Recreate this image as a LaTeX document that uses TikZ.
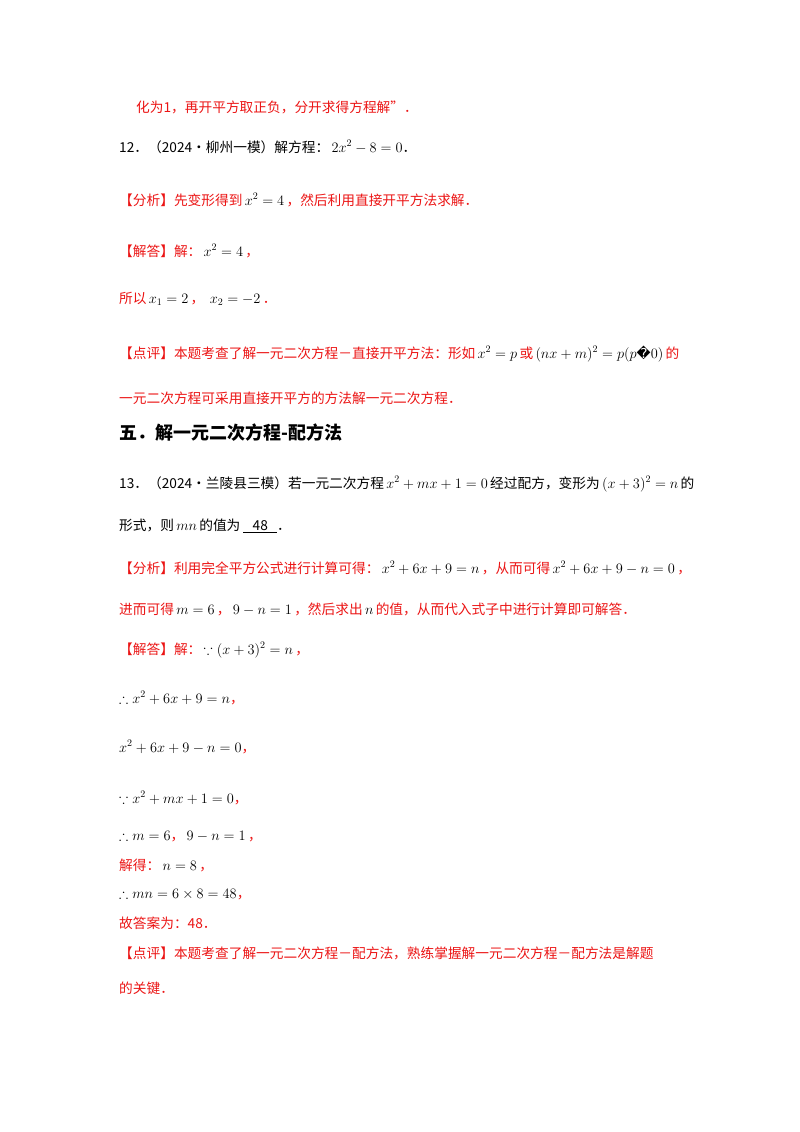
\documentclass[tikz,border=0pt]{standalone}
\usepackage{amsmath,amssymb}
\usepackage{fontspec}
\newfontfamily\cjk{Noto Sans CJK SC}
\newfontfamily\symfont{DejaVu Sans}
\definecolor{ansred}{RGB}{235,20,20}
\newcommand{\bk}[1]{\,\textcolor{black}{#1}\,}
\tikzset{
  line/.style={anchor=base west, inner sep=0pt, font=\cjk\fontsize{13.7}{16}\selectfont},
  redline/.style={line, text=ansred},
  head/.style={anchor=base west, inner sep=0pt, font=\cjk\bfseries\fontsize{18}{21}\selectfont}
}
\begin{document}
\begin{tikzpicture}[x=1pt,y=-1pt]
\useasboundingbox (0,0) rectangle (800,1132);
\node [redline] (l1) at (136,112) {化为1，再开平方取正负，分开求得方程解”．};
\node [line] (q12) at (119,152) {12．（2024•柳州一模）解方程：\,$2x^2-8=0$．};
\node [redline] (a12) at (119,205) {【分析】先变形得到\bk{$x^2=4$}，然后利用直接开平方法求解．};
\node [redline] (s12) at (119,256) {【解答】解：\bk{$x^2=4$}，};
\node [redline] (s12b) at (119,303) {所以\bk{$x_1=2$}，\ \bk{$x_2=-2$}．};
\node [redline] (c12) at (119,358) {【点评】本题考查了解一元二次方程－直接开平方法：形如\bk{$x^2=p$}或\bk{$(nx+m)^2=p(p${\symfont\char"FFFD}$0)$}的};
\node [redline] (c12b) at (119,403) {一元二次方程可采用直接开平方的方法解一元二次方程．};
\node [head] (h5) at (119,439) {五．解一元二次方程-配方法};
\node [line] (q13) at (119,488) {13．（2024•兰陵县三模）若一元二次方程\,$x^2+mx+1=0$\,经过配方，变形为\,$(x+3)^2=n$\,的};
\node [line] (q13b) at (119,530) {形式，则\,$mn$\,的值为\ \underline{\ \ \ 48\ \ \ }．};
\node [redline] (a13) at (119,573) {【分析】利用完全平方公式进行计算可得：\bk{$x^2+6x+9=n$}，从而可得\bk{$x^2+6x+9-n=0$}，};
\node [redline] (a13b) at (119,614) {进而可得\bk{$m=6$}，\bk{$9-n=1$}，然后求出\bk{$n$}的值，从而代入式子中进行计算即可解答．};
\node [redline] (s13) at (119,654) {【解答】解：\bk{$\because(x+3)^2=n$}，};
\node [redline] (s13b) at (119,703) {\textcolor{black}{$\therefore x^2+6x+9=n$}，};
\node [redline] (s13c) at (119,752) {\textcolor{black}{$x^2+6x+9-n=0$}，};
\node [redline] (s13d) at (119,803) {\textcolor{black}{$\because x^2+mx+1=0$}，};
\node [redline] (s13e) at (119,840) {\textcolor{black}{$\therefore m=6$}，\bk{$9-n=1$}，};
\node [redline] (s13f) at (119,870) {解得：\bk{$n=8$}，};
\node [redline] (s13g) at (119,898) {\textcolor{black}{$\therefore mn=6\times8=48$}，};
\node [redline] (s13h) at (119,928) {故答案为：48．};
\node [redline] (c13) at (119,958) {【点评】本题考查了解一元二次方程－配方法，熟练掌握解一元二次方程－配方法是解题};
\node [redline] (c13b) at (119,993) {的关键．};
\end{tikzpicture}
\end{document}
